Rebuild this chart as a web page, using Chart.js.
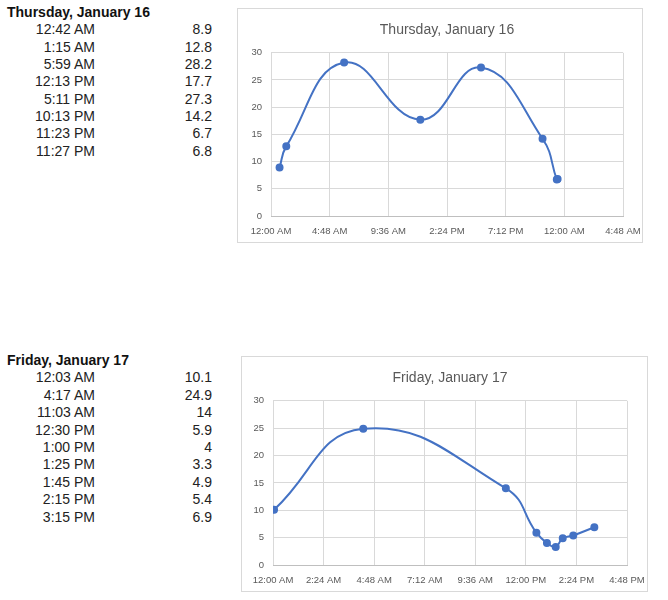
<!DOCTYPE html>
<html>
<head>
<meta charset="utf-8">
<script src="https://cdn.jsdelivr.net/npm/chart.js@4.4.1/dist/chart.umd.min.js"></script>
<style>
  body { margin: 0; background: #fff; font-family: "Liberation Sans", Arial, sans-serif; }
  .sheet { position: relative; width: 668px; height: 600px; }
  .tbl-title { position: absolute; left: 7px; font-weight: bold; font-size: 14px; line-height: 16px; color: #111; }
  .cell { position: absolute; font-size: 14px; line-height: 16px; color: #222; text-align: right; }
  .box { position: absolute; border: 1px solid #d9d9d9; background: #fff; }
</style>
</head>
<body>
<div class="sheet" id="sheet">
  <div class="box" style="left:237px; top:8px; width:404px; height:233px;"><canvas id="thuChart" width="404" height="233"></canvas></div>
  <div class="box" style="left:241px; top:356px; width:405px; height:234px;"><canvas id="friChart" width="405" height="234"></canvas></div>
</div>
<script>
// Thursday data
const thuTitle = "Thursday, January 16";
const thuTimes = ["12:42 AM", "1:15 AM", "5:59 AM", "12:13 PM", "5:11 PM", "10:13 PM", "11:23 PM", "11:27 PM"];
const thuValues = [8.9, 12.8, 28.2, 17.7, 27.3, 14.2, 6.7, 6.8];
const thuTicks = ["12:00 AM", "4:48 AM", "9:36 AM", "2:24 PM", "7:12 PM", "12:00 AM", "4:48 AM"];

// Friday data
const friTitle = "Friday, January 17";
const friTimes = ["12:03 AM", "4:17 AM", "11:03 AM", "12:30 PM", "1:00 PM", "1:25 PM", "1:45 PM", "2:15 PM", "3:15 PM"];
const friValues = [10.1, 24.9, 14, 5.9, 4, 3.3, 4.9, 5.4, 6.9];
const friTicks = ["12:00 AM", "2:24 AM", "4:48 AM", "7:12 AM", "9:36 AM", "12:00 PM", "2:24 PM", "4:48 PM"];

const yTicks = [0, 5, 10, 15, 20, 25, 30];

// "h:mm AM" -> hours, rolling over to the next day when time goes backwards
function toHours(list) {
  let day = 0, prev = -1;
  return list.map(t => {
    const m = t.match(/(\d+):(\d+)\s*(AM|PM)/);
    let h = parseInt(m[1], 10) % 12;
    if (m[3] === "PM") h += 12;
    let v = h + parseInt(m[2], 10) / 60;
    if (v < prev) day += 24;
    prev = v;
    return v + day;
  });
}

// tables on the left
const sheet = document.getElementById("sheet");
function addTable(title, times, values, top, step) {
  const t = document.createElement("div");
  t.className = "tbl-title";
  t.style.top = (top - 8) + "px";
  t.textContent = title;
  sheet.appendChild(t);
  times.forEach((time, i) => {
    const y = top + step * (i + 1) - 8;
    const a = document.createElement("div");
    a.className = "cell";
    a.style.cssText = "left:0; width:95px; top:" + y + "px";
    a.textContent = time;
    sheet.appendChild(a);
    const b = document.createElement("div");
    b.className = "cell";
    b.style.cssText = "left:120px; width:92px; top:" + y + "px";
    b.textContent = values[i];
    sheet.appendChild(b);
  });
}
addTable(thuTitle, thuTimes, thuValues, 12, 17.35);
addTable(friTitle, friTimes, friValues, 360, 17.4);

Chart.defaults.font.family = "'Liberation Sans', Arial, sans-serif";

function makeChart(id, title, times, values, ticks, yWidth, padRight) {
  const xs = toHours(times);
  const tickHours = toHours(ticks);
  const points = xs.map((x, i) => ({ x: x, y: values[i] }));
  return new Chart(document.getElementById(id), {
    type: "scatter",
    data: {
      datasets: [{
        data: points,
        showLine: true,
        tension: 0.45,
        borderColor: "#4472C4",
        backgroundColor: "#4472C4",
        borderWidth: 2,
        pointRadius: 3,
        pointHoverRadius: 3
      }]
    },
    options: {
      responsive: false,
      animation: false,
      layout: { padding: 0 },
      plugins: {
        legend: { display: false },
        tooltip: { enabled: false },
        title: {
          display: true,
          fullSize: false,
          text: title,
          color: "#595959",
          font: { size: 14, weight: "normal" },
          padding: { top: 13, bottom: 14 }
        }
      },
      scales: {
        x: {
          type: "linear",
          min: tickHours[0],
          max: tickHours[tickHours.length - 1],
          afterBuildTicks: s => { s.ticks = tickHours.map(v => ({ value: v })); },
          afterFit: s => { s.height = 26; s.paddingLeft = 0; s.paddingRight = padRight; },
          ticks: {
            autoSkip: false,
            maxRotation: 0,
            padding: 10,
            color: "#595959",
            font: { size: 9.5 },
            callback: (v, i) => ticks[i]
          },
          grid: { color: "#d9d9d9", drawTicks: false },
          border: { color: "#bfbfbf" }
        },
        y: {
          min: yTicks[0],
          max: yTicks[yTicks.length - 1],
          afterBuildTicks: s => { s.ticks = yTicks.map(v => ({ value: v })); },
          afterFit: s => { s.width = yWidth; },
          ticks: { padding: 9, color: "#595959", font: { size: 9.5 } },
          grid: { color: "#d9d9d9", drawTicks: false },
          border: { display: false }
        }
      }
    }
  });
}

makeChart("thuChart", thuTitle, thuTimes, thuValues, thuTicks, 33, 19);
makeChart("friChart", friTitle, friTimes, friValues, friTicks, 31, 20);
</script>
</body>
</html>
